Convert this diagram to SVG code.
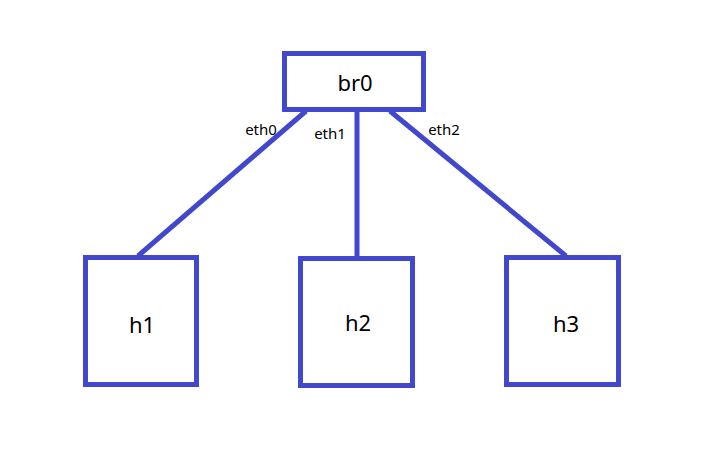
<svg xmlns="http://www.w3.org/2000/svg" width="727" height="454" viewBox="0 0 727 454">
  <style>
    .box { fill: #ffffff; stroke: #4148cc; stroke-width: 5; }
    .link { stroke: #4148cc; stroke-width: 5; fill: none; }
    .name { font-family: "Noto Sans", "Open Sans", sans-serif; font-size: 22px; fill: #000; text-anchor: middle; dominant-baseline: central; }
    .port { font-family: "Noto Sans", "Open Sans", sans-serif; font-size: 15px; fill: #000; text-anchor: middle; dominant-baseline: central; }
  </style>
  <rect width="727" height="454" fill="#ffffff"/>
  <g id="connectors">
    <line class="link" x1="306" y1="111" x2="138" y2="256"/>
    <line class="link" x1="357" y1="111" x2="357" y2="257"/>
    <line class="link" x1="390" y1="111" x2="566" y2="256"/>
    <text class="port" x="261" y="129">eth0</text>
    <text class="port" x="330" y="133">eth1</text>
    <text class="port" x="444" y="129">eth2</text>
  </g>
  <g id="br0">
    <rect class="box" x="284.5" y="53.5" width="139" height="56"/>
    <text class="name" x="355" y="82">br0</text>
  </g>
  <g id="h1">
    <rect class="box" x="85.5" y="257.5" width="111" height="127"/>
    <text class="name" x="142" y="324">h1</text>
  </g>
  <g id="h2">
    <rect class="box" x="300.5" y="258.5" width="112" height="127"/>
    <text class="name" x="358" y="322">h2</text>
  </g>
  <g id="h3">
    <rect class="box" x="506.5" y="257.5" width="112" height="127"/>
    <text class="name" x="566" y="323">h3</text>
  </g>
</svg>
